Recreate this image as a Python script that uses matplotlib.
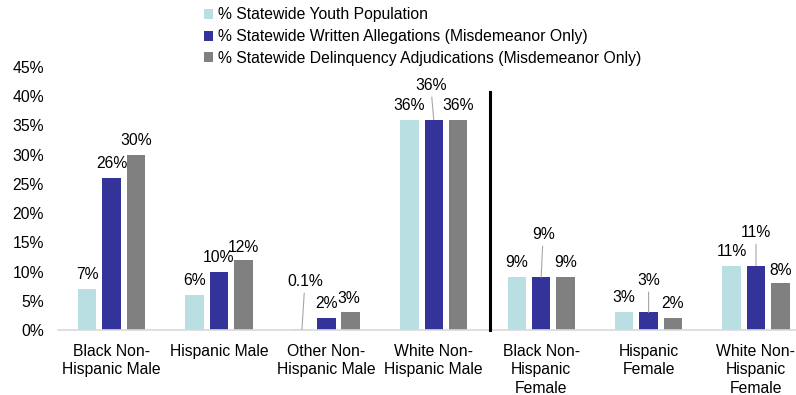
import matplotlib
matplotlib.use("Agg")
import matplotlib.pyplot as plt
import numpy as np

plt.rcParams['font.family'] = ['Liberation Sans', 'DejaVu Sans']

categories = [
    "Black Non-\nHispanic Male",
    "Hispanic Male",
    "Other Non-\nHispanic Male",
    "White Non-\nHispanic Male",
    "Black Non-\nHispanic\nFemale",
    "Hispanic\nFemale",
    "White Non-\nHispanic\nFemale",
]
series_names = [
    "% Statewide Youth Population",
    "% Statewide Written Allegations (Misdemeanor Only)",
    "% Statewide Delinquency Adjudications (Misdemeanor Only)",
]
youth_population = [7, 6, 0.1, 36, 9, 3, 11]
written_allegations = [26, 10, 2, 36, 9, 3, 11]
delinquency_adjudications = [30, 12, 3, 36, 9, 2, 8]
value_labels = [
    ["7%", "6%", "0.1%", "36%", "9%", "3%", "11%"],
    ["26%", "10%", "2%", "36%", "9%", "3%", "11%"],
    ["30%", "12%", "3%", "36%", "9%", "2%", "8%"],
]
y_ticks = [0, 5, 10, 15, 20, 25, 30, 35, 40, 45]

series = [youth_population, written_allegations, delinquency_adjudications]
colors = ["#B9DFE3", "#333399", "#808080"]

DPI = 100
FS = 11.3
fig = plt.figure(figsize=(7.96, 3.95), dpi=DPI)
ax = fig.add_axes([0.0726, 0.1646, 0.9446, 0.666])

x = np.arange(len(categories))
bar_w = 0.172
step = 0.227
px2pt = 72.0 / DPI

# label offsets (pixels): (dx, dy) from bar top; leader lines where flagged
default_dy = 14.5
special = {
    (0, 2): (3, 48, True),
    (1, 3): (-3, 34, True),
    (1, 4): (2, 43, True),
    (1, 5): (0, 32, True),
    (1, 6): (0, 33, True),
    (2, 2): (-2, 14, False),
    (2, 1): (0, 12, False),
    (2, 6): (0, 13, False),
}

for s, (vals, col) in enumerate(zip(series, colors)):
    xs = x + (s - 1) * step
    ax.bar(xs, vals, width=bar_w, color=col, label=series_names[s], zorder=2)
    for i, (xi, v) in enumerate(zip(xs, vals)):
        dx, dy, leader = special.get((s, i), (0, default_dy, False))
        kw = dict(xy=(xi, v), xytext=(dx * px2pt, dy * px2pt),
                  textcoords="offset points", ha="center", va="center",
                  fontsize=FS, color="#000000")
        if leader:
            kw["arrowprops"] = dict(arrowstyle="-", color="#A6A6A6", lw=0.8,
                                    shrinkA=1, shrinkB=0)
        ax.annotate(value_labels[s][i], **kw)

# separator between male and female groups
ax.plot([3.52, 3.52], [0, 40.7], color="black", lw=2.2, zorder=3, clip_on=False)

ax.set_xlim(-0.5, len(categories) - 0.5)
ax.set_ylim(0, 45)
ax.set_yticks(y_ticks)
ax.set_yticklabels([f"{t}%" for t in y_ticks])
ax.set_xticks(x)
ax.set_xticklabels(categories, linespacing=1.3)
ax.tick_params(axis="both", length=0, labelsize=FS)
ax.tick_params(axis="y", pad=10)
ax.tick_params(axis="x", pad=10)

for side in ["left", "right", "top"]:
    ax.spines[side].set_visible(False)
ax.spines["bottom"].set_color("#D9D9D9")
ax.spines["bottom"].set_linewidth(1.2)

fig.legend(loc="upper left", bbox_to_anchor=(0.248, 0.997), frameon=False,
           fontsize=FS, handlelength=0.6, handleheight=0.6, handletextpad=0.3,
           labelspacing=0.42, borderaxespad=0)

fig.savefig("out.png", dpi=DPI)
